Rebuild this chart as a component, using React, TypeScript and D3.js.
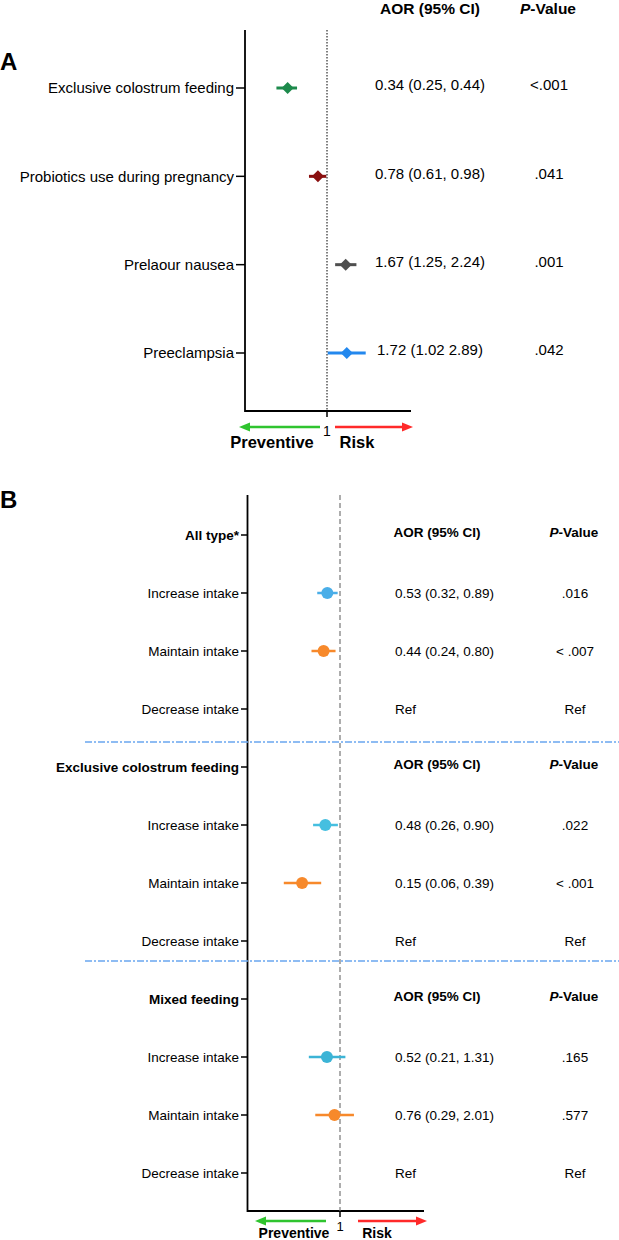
import * as d3 from 'd3'

const W = 619
const H = 1240
const FONT = '"Liberation Sans", Arial, Helvetica, sans-serif'

// panel A
const aLabels = [
  'Exclusive colostrum feeding',
  'Probiotics use during pregnancy',
  'Prelaour nausea',
  'Preeclampsia',
]
const aOR = [0.34, 0.78, 1.67, 1.72]
const aLow = [0.25, 0.61, 1.25, 1.02]
const aHigh = [0.44, 0.98, 2.24, 2.89]
const aText = ['0.34 (0.25, 0.44)', '0.78 (0.61, 0.98)', '1.67 (1.25, 2.24)', '1.72 (1.02 2.89)']
const aP = ['<.001', '.041', '.001', '.042']
const aColors = ['#1d8a4c', '#8a1010', '#4f4f4f', '#2388ee']

// panel B
const bGroups = ['All type*', 'Exclusive colostrum feeding', 'Mixed feeding']
const bLevels = ['Increase intake', 'Maintain intake', 'Decrease intake']
const bOR = [
  [0.53, 0.44, null],
  [0.48, 0.15, null],
  [0.52, 0.76, null],
]
const bLow = [
  [0.32, 0.24, null],
  [0.26, 0.06, null],
  [0.21, 0.29, null],
]
const bHigh = [
  [0.89, 0.8, null],
  [0.9, 0.39, null],
  [1.31, 2.01, null],
]
const bText = [
  ['0.53 (0.32, 0.89)', '0.44 (0.24, 0.80)', 'Ref'],
  ['0.48 (0.26, 0.90)', '0.15 (0.06, 0.39)', 'Ref'],
  ['0.52 (0.21, 1.31)', '0.76 (0.29, 2.01)', 'Ref'],
]
const bP = [
  ['.016', '< .007', 'Ref'],
  ['.022', '< .001', 'Ref'],
  ['.165', '.577', 'Ref'],
]
const bIncColors = ['#4aaee8', '#45bfe0', '#3cb4d6']
const bMaintColor = '#f7892b'
const refTick = [1]

const GREEN = '#2fc42f'
const RED = '#ff2a2a'

const Arrows = ({ x1, xl, xr, x2, y, w }: { x1: number; xl: number; xr: number; x2: number; y: number; w: number }) => (
  <g>
    <line x1={xl} x2={x1 + 9} y1={y} y2={y} stroke={GREEN} strokeWidth={w} />
    <path d={`M${x1},${y} L${x1 + 11},${y - 4.5} L${x1 + 11},${y + 4.5} Z`} fill={GREEN} />
    <line x1={xr} x2={x2 - 9} y1={y} y2={y} stroke={RED} strokeWidth={w} />
    <path d={`M${x2},${y} L${x2 - 11},${y - 4.5} L${x2 - 11},${y + 4.5} Z`} fill={RED} />
  </g>
)

const PanelA = () => {
  const x = d3.scaleLog().domain([0.1, 10]).range([243, 411])
  const y = d3.scalePoint<string>().domain(aLabels).range([88, 353])
  const axisX = 245
  const top = 30
  const bottom = 411
  return (
    <g fontFamily={FONT}>
      <text x={0} y={70} fontSize={24} fontWeight="bold">A</text>
      <text x={430} y={14} fontSize={15.5} fontWeight="bold" textAnchor="middle">AOR (95% CI)</text>
      <text x={548} y={14} fontSize={15.5} fontWeight="bold" textAnchor="middle">
        <tspan fontStyle="italic">P</tspan>-Value
      </text>
      <line x1={axisX} x2={axisX} y1={top} y2={bottom + 1} stroke="#000" strokeWidth={1.8} />
      <line x1={axisX} x2={411} y1={bottom} y2={bottom} stroke="#000" strokeWidth={1.8} />
      {refTick.map((t) => (
        <g key={t}>
          <line x1={x(t)} x2={x(t)} y1={top} y2={bottom} stroke="#000" strokeWidth={1} strokeDasharray="1.5,1.5" />
          <line x1={x(t)} x2={x(t)} y1={bottom} y2={bottom + 6} stroke="#000" strokeWidth={1.5} />
          <text x={x(t)} y={436} fontSize={14} textAnchor="middle">{t}</text>
        </g>
      ))}
      <Arrows x1={239} xl={320} xr={335} x2={413} y={427} w={2.5} />
      <text x={272} y={448} fontSize={16.5} fontWeight="bold" textAnchor="middle">Preventive</text>
      <text x={357} y={448} fontSize={16.5} fontWeight="bold" textAnchor="middle">Risk</text>
      {aLabels.map((lab, i) => {
        const yy = y(lab) as number
        const cx = x(aOR[i])
        return (
          <g key={lab}>
            <text x={234} y={yy} dy="0.35em" fontSize={15} textAnchor="end">{lab}</text>
            <line x1={236} x2={axisX} y1={yy} y2={yy} stroke="#000" strokeWidth={1.5} />
            <line x1={x(aLow[i])} x2={x(aHigh[i])} y1={yy} y2={yy} stroke={aColors[i]} strokeWidth={3} />
            <path d={`M${cx - 6},${yy} L${cx},${yy - 6} L${cx + 6},${yy} L${cx},${yy + 6} Z`} fill={aColors[i]} />
            <text x={430} y={yy - 3} dy="0.35em" fontSize={15} textAnchor="middle">{aText[i]}</text>
            <text x={549} y={yy - 3} dy="0.35em" fontSize={15} textAnchor="middle">{aP[i]}</text>
          </g>
        )
      })}
    </g>
  )
}

const PanelB = () => {
  const x = d3.scaleLog().domain([0.01, 100]).range([248, 432])
  const rows: string[] = []
  bGroups.forEach((g, gi) => {
    rows.push(`h${gi}`)
    bLevels.forEach((_, li) => rows.push(`r${gi}-${li}`))
  })
  const y = d3.scalePoint<string>().domain(rows).range([535, 1173])
  const axisX = 247.5
  const top = 495
  const bottom = 1211
  const sepOffsets = [33, 20]
  return (
    <g fontFamily={FONT}>
      <text x={0} y={508} fontSize={24} fontWeight="bold">B</text>
      <line x1={axisX} x2={axisX} y1={top} y2={bottom + 1} stroke="#000" strokeWidth={1.8} />
      <line x1={axisX} x2={424} y1={bottom} y2={bottom} stroke="#000" strokeWidth={1.8} />
      {refTick.map((t) => (
        <g key={t}>
          <line x1={x(t)} x2={x(t)} y1={top} y2={bottom} stroke="#777" strokeWidth={1.2} strokeDasharray="5,3" />
          <line x1={x(t)} x2={x(t)} y1={bottom} y2={bottom + 6} stroke="#000" strokeWidth={1.5} />
          <text x={x(t)} y={1231} fontSize={13} textAnchor="middle">{t}</text>
        </g>
      ))}
      <Arrows x1={255} xl={326} xr={358} x2={427} y={1221} w={2.5} />
      <text x={294} y={1238} fontSize={14} fontWeight="bold" textAnchor="middle">Preventive</text>
      <text x={377} y={1238} fontSize={14} fontWeight="bold" textAnchor="middle">Risk</text>
      {sepOffsets.map((off, i) => {
        const yy = (y(`r${i}-2`) as number) + off
        return (
          <line key={i} x1={85} x2={W} y1={yy} y2={yy} stroke="#6aa6f0" strokeWidth={1.5} strokeDasharray="7,2,2,2" />
        )
      })}
      {bGroups.map((g, gi) => {
        const hy = y(`h${gi}`) as number
        return (
          <g key={g}>
            <text x={239} y={hy} dy="0.35em" fontSize={13.5} fontWeight="bold" textAnchor="end">{g}</text>
            <line x1={241} x2={axisX} y1={hy} y2={hy} stroke="#000" strokeWidth={1.5} />
            <text x={437} y={hy - 3} dy="0.35em" fontSize={13.5} fontWeight="bold" textAnchor="middle">AOR (95% CI)</text>
            <text x={574} y={hy - 3} dy="0.35em" fontSize={13.5} fontWeight="bold" textAnchor="middle">
              <tspan fontStyle="italic">P</tspan>-Value
            </text>
            {bLevels.map((lv, li) => {
              const yy = y(`r${gi}-${li}`) as number
              const or = bOR[gi][li]
              const lo = bLow[gi][li]
              const hi = bHigh[gi][li]
              const col = li === 0 ? bIncColors[gi] : bMaintColor
              return (
                <g key={lv}>
                  <text x={239} y={yy} dy="0.35em" fontSize={13.5} textAnchor="end">{lv}</text>
                  <line x1={241} x2={axisX} y1={yy} y2={yy} stroke="#000" strokeWidth={1.5} />
                  {or != null && lo != null && hi != null && (
                    <g>
                      <line x1={x(lo)} x2={x(hi)} y1={yy} y2={yy} stroke={col} strokeWidth={2.5} />
                      <circle cx={x(or)} cy={yy} r={6} fill={col} />
                    </g>
                  )}
                  <text x={395} y={yy} dy="0.35em" fontSize={13.5}>{bText[gi][li]}</text>
                  <text x={575} y={yy} dy="0.35em" fontSize={13.5} textAnchor="middle">{bP[gi][li]}</text>
                </g>
              )
            })}
          </g>
        )
      })}
    </g>
  )
}

export default function App() {
  return (
    <svg width={W} height={H} style={{ position: 'absolute', left: 0, top: 0, background: '#fff' }}>
      <PanelA />
      <PanelB />
    </svg>
  )
}
